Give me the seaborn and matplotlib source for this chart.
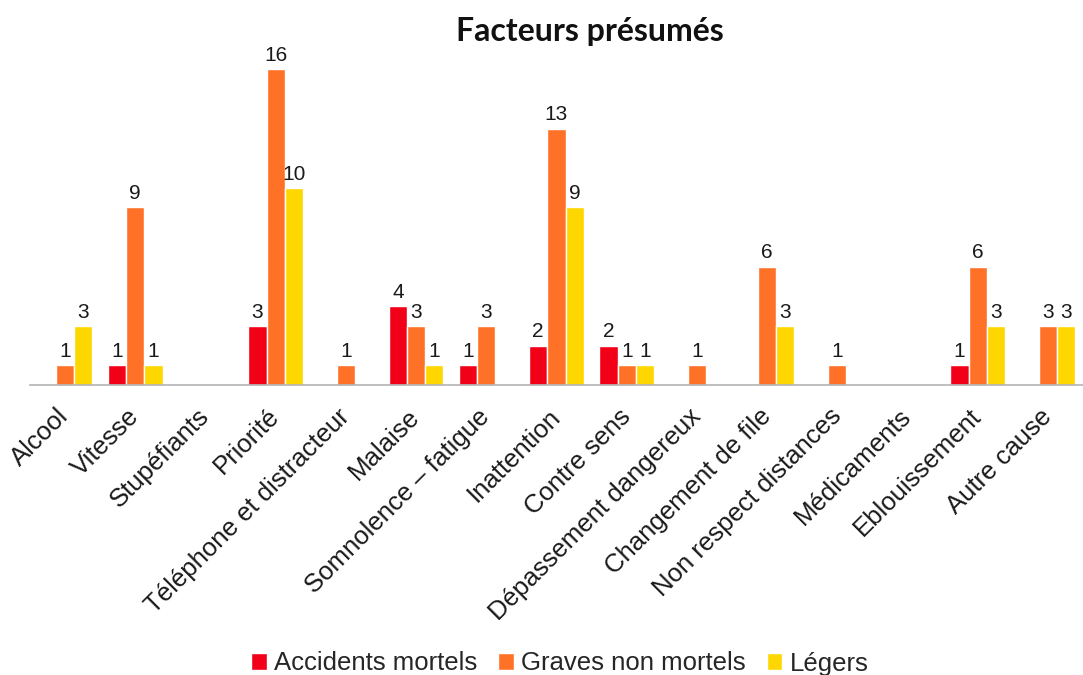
import pandas as pd
import numpy as np
import seaborn as sns
import matplotlib.pyplot as plt

# catégories et valeurs
categories = ["Alcool", "Vitesse", "Stupéfiants", "Priorité", "Téléphone et distracteur",
              "Malaise", "Somnolence – fatigue", "Inattention", "Contre sens",
              "Dépassement dangereux", "Changement de file", "Non respect distances",
              "Médicaments", "Eblouissement", "Autre cause"]
series = ["Accidents mortels", "Graves non mortels", "Légers"]
mortels = [0, 1, 0, 3, 0, 4, 1, 2, 2, 0, 0, 0, 0, 1, 0]
graves = [1, 9, 0, 16, 1, 3, 3, 13, 1, 1, 6, 1, 0, 6, 3]
legers = [3, 1, 0, 10, 0, 1, 0, 9, 1, 0, 3, 0, 0, 3, 3]
colors = ["#F20018", "#FF7127", "#FFD700"]

df = pd.DataFrame({
    "categorie": categories * 3,
    "serie": np.repeat(series, len(categories)),
    "valeur": mortels + graves + legers,
})

sns.set_style("white")
plt.rcParams['font.family'] = ['Liberation Sans', 'DejaVu Sans']

fig = plt.figure(figsize=(10.83, 6.75), dpi=100)
ax = fig.add_axes([30 / 1083, 290 / 675, 1053 / 1083, 0.526])

sns.barplot(data=df, x="categorie", y="valeur", hue="serie", palette=colors,
            width=0.78, saturation=1, ax=ax, legend=True)

# étiquettes de valeurs (pas pour les zéros)
for cont in ax.containers:
    labs = [str(int(b.get_height())) if b.get_height() > 0 else "" for b in cont]
    ax.bar_label(cont, labels=labs, padding=3, fontsize=15, color="#1a1a1a")

ax.set_xlim(-0.5, 14.35)
ax.set_ylim(0, 18)
ax.set_xlabel("")
ax.set_ylabel("")
ax.set_yticks([])
for s in ["top", "right", "left"]:
    ax.spines[s].set_visible(False)
ax.spines["bottom"].set_color("#b3b3b3")
ax.spines["bottom"].set_linewidth(1.2)

ax.set_xticks(np.arange(len(categories)))
ax.set_xticklabels(categories, rotation=45, ha="right", va="center",
                   rotation_mode="anchor", fontsize=18.5, color="#1a1a1a")
ax.tick_params(axis="x", which="major", length=0, pad=20)
ax.set_xticks(np.arange(len(categories) + 1) - 0.5, minor=True)
ax.tick_params(axis="x", which="minor", length=10, width=1.2, color="#b3b3b3")

fig.text(0.545, 0.953, "Facteurs présumés", fontsize=23, fontweight="bold",
         family=["Lato", "DejaVu Sans"], ha="center", va="center", color="#111111")

handles, labels = ax.get_legend_handles_labels()
ax.legend_.remove()
fig.legend(handles, labels, loc="lower center", ncol=3, frameon=False,
           fontsize=18.5, handlelength=0.6, handleheight=0.6, handletextpad=0.3,
           columnspacing=0.8, bbox_to_anchor=(0.517, -0.035))

fig.savefig("out.png", dpi=100)
